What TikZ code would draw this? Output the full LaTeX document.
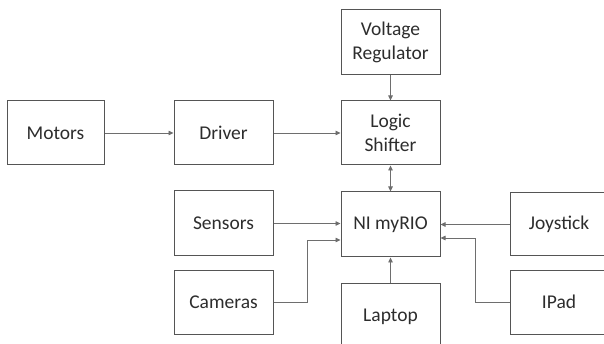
\documentclass[tikz,border=0pt]{standalone}
\usepackage{fontspec}
\setmainfont{Carlito}
\usetikzlibrary{arrows.meta}
\definecolor{boxgray}{RGB}{85,85,85}
\definecolor{textgray}{RGB}{45,45,45}
\definecolor{linegray}{RGB}{110,110,110}
\begin{document}
\begin{tikzpicture}[x=1pt,y=-1pt,
  blk/.style={draw=boxgray, line width=1pt, fill=white, inner sep=0pt, align=center,
    font=\fontsize{19.5}{23.5}\selectfont, text=textgray},
  conn/.style={draw=linegray, line width=0.8pt, -{Triangle[length=5pt,width=4.5pt]}},
  bconn/.style={draw=linegray, line width=0.8pt, {Triangle[length=5pt,width=4.5pt]}-{Triangle[length=5pt,width=4.5pt]}}]
\clip (0,0) rectangle (604,344);
\fill[white] (0,0) rectangle (604,344);

\node[blk, minimum width=99pt, minimum height=65pt] (vr) at (390.5,42.5) {Voltage\\Regulator};
\node[blk, minimum width=99pt, minimum height=64pt] (ls) at (390.5,133) {Logic\\Shifter};
\node[blk, minimum width=97pt, minimum height=64pt] (mot) at (55.5,133) {Motors};
\node[blk, minimum width=99pt, minimum height=64pt] (drv) at (223.5,133) {Driver};
\node[blk, minimum width=99pt, minimum height=65pt] (sen) at (223.5,223.5) {Sensors};
\node[blk, minimum width=99pt, minimum height=65pt] (ni) at (390.5,224.5) {NI myRIO};
\node[blk, minimum width=98pt, minimum height=63pt] (joy) at (559,224.5) {Joystick};
\node[blk, minimum width=99pt, minimum height=64pt] (cam) at (223.5,302) {Cameras};
\node[blk, minimum width=99pt, minimum height=67pt] (lap) at (390.5,316.5) {Laptop};
\node[blk, minimum width=98pt, minimum height=64pt] (ipad) at (559,302) {IPad};

\coordinate (camj) at (307,240);
\coordinate (ipj) at (475,238);

\draw[conn] (mot.east) -- (drv.west);
\draw[conn] (drv.east) -- (ls.west);
\draw[conn] (vr.south) -- (ls.north);
\draw[bconn] (ls.south) -- (ni.north);
\draw[conn] (sen.east) -- (sen.east -| ni.west);
\draw[conn] (cam.east) -| (camj) -- (camj -| ni.west);
\draw[conn] (joy.west) -- (ni.east);
\draw[conn] (ipad.west) -| (ipj) -- (ipj -| ni.east);
\draw[conn] (lap.north) -- (ni.south);
\end{tikzpicture}
\end{document}
